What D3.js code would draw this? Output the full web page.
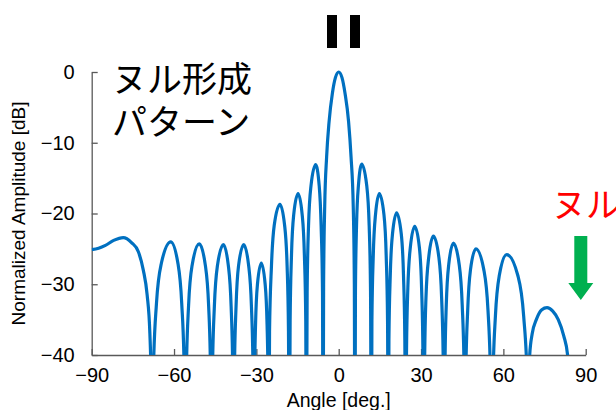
<!DOCTYPE html>
<html>
<head>
<meta charset="utf-8">
<script src="https://cdn.jsdelivr.net/npm/d3@7"></script>
<style>
body { margin: 0; background: #fff; }
</style>
</head>
<body>
<div id="chart"></div>
<script>
const width = 616
const height = 410
const lineColor = '#0070C0'

// angle [deg], level [dB], lobe by lobe
const pattern = [
  [-90,-25.1],[-87.5,-24.9],[-85,-24.5],[-82,-23.8],[-78.5,-23.4],[-75.5,-24.1],[-73,-25.4],[-71.2,-28],[-69.8,-31.5],[-68.8,-37],[-68.3,-45],[-68,-60],
  [-67.5,-42],[-66.4,-32.7],[-64.6,-27],[-61.2,-24],[-58.6,-27],[-57.2,-32.7],[-56.3,-42],[-55.9,-60],
  [-55.5,-42.3],[-54.7,-33],[-53.4,-27.3],[-50.8,-24.3],[-48.6,-27.3],[-47.4,-33],[-46.7,-42.3],[-46.3,-60],
  [-46,-42.4],[-45.3,-33.1],[-44.2,-27.4],[-42,-24.4],[-40.2,-27.4],[-39.2,-33.1],[-38.6,-42.4],[-38.3,-60],
  [-38,-42.4],[-37.4,-33.1],[-36.5,-27.4],[-34.6,-24.4],[-32.8,-27.4],[-31.8,-33.1],[-31.2,-42.4],[-30.9,-60],
  [-30.7,-45],[-30.3,-35.7],[-29.6,-30],[-28.2,-27],[-26.8,-30],[-26.1,-35.7],[-25.7,-45],[-25.5,-60],
  [-25.2,-36.7],[-24.5,-27.4],[-23.5,-21.7],[-21.4,-18.7],[-19.7,-21.7],[-18.8,-27.4],[-18.3,-36.7],[-18,-60],
  [-17.7,-35.2],[-17.2,-25.9],[-16.4,-20.2],[-14.8,-17.2],[-13.3,-20.2],[-12.5,-25.9],[-12,-35.2],[-11.8,-60],
  [-11.5,-31.1],[-11,-21.8],[-10.1,-16.1],[-8.4,-13.1],[-7.1,-16.1],[-6.4,-21.8],[-5.9,-31.1],[-5.7,-60],
  [-5.5,-30],[-5.1,-19],[-4.4,-12],[-3.5,-7],[-2.3,-3],[-1.2,-0.8],[0,0],[1.2,-0.8],[2.3,-3],[3.6,-7],[4.5,-12],[5.3,-19],[5.7,-30],[5.9,-60],
  [6.1,-31],[6.5,-21.7],[7.2,-16],[8.4,-13],[10.2,-16],[11.1,-21.7],[11.6,-31],[11.9,-60],
  [12.1,-35.2],[12.6,-25.9],[13.4,-20.2],[14.8,-17.2],[16.5,-20.2],[17.3,-25.9],[17.8,-35.2],[18.1,-60],
  [18.3,-37.9],[18.8,-28.6],[19.6,-22.9],[21.1,-19.9],[22.8,-22.9],[23.6,-28.6],[24.1,-37.9],[24.4,-60],
  [24.7,-39.8],[25.2,-30.5],[26.1,-24.8],[27.7,-21.8],[29.4,-24.8],[30.2,-30.5],[30.7,-39.8],[31,-60],
  [31.3,-41.2],[31.8,-31.9],[32.8,-26.2],[34.5,-23.2],[36.5,-26.2],[37.5,-31.9],[38.1,-41.2],[38.4,-60],
  [38.7,-42.2],[39.2,-32.9],[40.1,-27.2],[41.8,-24.2],[43.9,-27.2],[45,-32.9],[45.7,-42.2],[46,-60],
  [46.3,-43],[47,-33.7],[48,-28],[50,-25],[52.9,-28],[54.4,-33.7],[55.3,-43],[55.8,-60],
  [56.2,-43.8],[57.1,-34.5],[58.5,-28.8],[61.2,-25.8],[65.3,-28.8],[67.4,-34.5],[68.7,-43.8],[69.2,-60],
  [69.6,-40],[70.5,-37],[72,-35],[74,-33.6],[75.9,-33.3],[78,-33.8],[80,-35],[82,-37.3],[83.4,-40],[84,-46],[84.5,-60]
]
const xTicks = [-90, -60, -30, 0, 30, 60, 90]
const yTicks = [0, -10, -20, -30, -40]
const xTitle = 'Angle [deg.]'
const yTitle = 'Normalized Amplitude [dB]'
const noteLines = ['ヌル形成', 'パターン']
const nullNote = 'ヌル'

const svg = d3.select('#chart')
  .append('svg')
  .attr('width', width)
  .attr('height', height)
  .style('font-family', '"Liberation Sans", Arial, sans-serif')

svg.append('rect').attr('width', width).attr('height', height).attr('fill', '#fff')

const x = d3.scaleLinear().domain([-90, 90]).range([91.7, 585.7])
const y = d3.scaleLinear().domain([-40, 0]).range([355, 72])

/* axes */
const xAxis = svg.append('g')
  .attr('transform', `translate(0,${y(-40)})`)
  .call(d3.axisBottom(x).tickValues(xTicks).tickSizeInner(-6).tickSizeOuter(0).tickPadding(13))
const yAxis = svg.append('g')
  .attr('transform', `translate(${x(-90)},0)`)
  .call(d3.axisLeft(y).tickValues(yTicks).tickSizeInner(-6).tickSizeOuter(0).tickPadding(17))

for (const ax of [xAxis, yAxis]) {
  ax.select('.domain').attr('stroke', '#595959').attr('stroke-width', 1.3)
  ax.selectAll('.tick line').attr('stroke', '#595959').attr('stroke-width', 1.3)
  ax.selectAll('.tick text')
    .attr('fill', '#000')
    .attr('font-size', 20)
    .attr('font-family', '"Liberation Sans", Arial, sans-serif')
}

svg.append('text')
  .attr('x', x(0))
  .attr('y', 407)
  .attr('text-anchor', 'middle')
  .attr('font-size', 19.5)
  .text(xTitle)

svg.append('text')
  .attr('transform', `translate(25,${(y(0) + y(-40)) / 2}) rotate(-90)`)
  .attr('text-anchor', 'middle')
  .attr('font-size', 19)
  .text(yTitle)

/* pattern */
svg.append('clipPath').attr('id', 'plotclip')
  .append('rect')
  .attr('x', x(-90)).attr('y', 40)
  .attr('width', x(90) - x(-90)).attr('height', y(-40) - 40)

const line = d3.line()
  .x(d => x(d[0]))
  .y(d => y(d[1]))
  .curve(d3.curveMonotoneX)

svg.append('path')
  .datum(pattern)
  .attr('clip-path', 'url(#plotclip)')
  .attr('d', line)
  .attr('fill', 'none')
  .attr('stroke', lineColor)
  .attr('stroke-width', 3.2)
  .attr('stroke-linejoin', 'round')

/* annotations */
const jp = '"Noto Sans CJK JP", "Noto Sans CJK SC", sans-serif'
svg.append('text')
  .attr('font-size', 35)
  .attr('font-family', jp)
  .attr('fill', '#000')
  .selectAll('tspan')
  .data(noteLines)
  .enter()
  .append('tspan')
  .attr('x', 112)
  .attr('y', (_, i) => 92 + i * 43)
  .text(d => d)

svg.append('text')
  .attr('x', 552)
  .attr('y', 217)
  .attr('font-size', 34)
  .attr('font-family', jp)
  .attr('fill', '#FF0000')
  .text(nullNote)

svg.append('path')
  .attr('d', 'M574.3,236 L587.3,236 L587.3,283 L593.3,283 L580.8,300 L568.3,283 L574.3,283 Z')
  .attr('fill', '#00B050')

/* bars at the top */
svg.append('rect').attr('x', 327).attr('y', 15).attr('width', 10).attr('height', 33).attr('fill', '#000')
svg.append('rect').attr('x', 350).attr('y', 15).attr('width', 10).attr('height', 33).attr('fill', '#000')
</script>
</body>
</html>
